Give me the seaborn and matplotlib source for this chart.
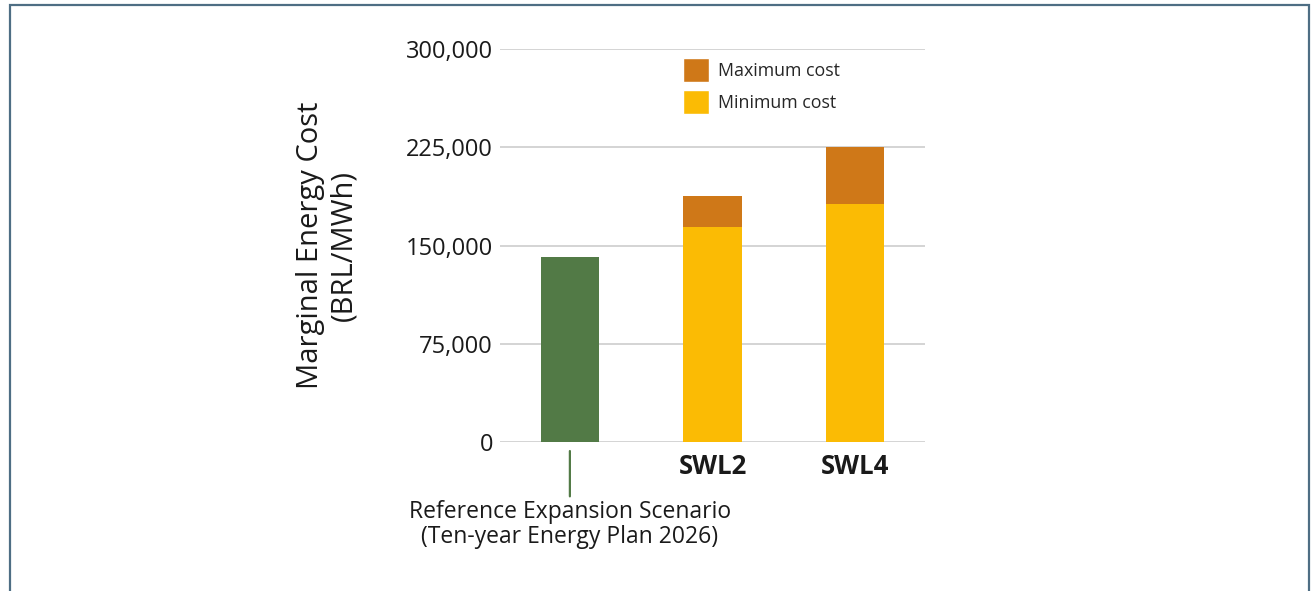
import matplotlib
matplotlib.use("Agg")
import matplotlib.pyplot as plt
import seaborn as sns
from matplotlib.patches import Patch, Rectangle
from matplotlib.ticker import FuncFormatter

categories = ["Reference", "SWL2", "SWL4"]
tick_labels = ["", "SWL2", "SWL4"]
ref_label = "Reference Expansion Scenario\n(Ten-year Energy Plan 2026)"
min_cost = [141000, 164000, 182000]
max_cost = [0, 188000, 225000]
yticks = [0, 75000, 150000, 225000, 300000]

GREEN = "#527a46"
ORANGE = "#cf7818"
YELLOW = "#fbbb04"
GRID = "#d4d4d4"
TEXT = "#1a1a1a"

sns.set_theme(style="white")
plt.rcParams["font.family"] = ["Open Sans", "DejaVu Sans"]

fig = plt.figure(figsize=(13.16, 5.91), dpi=100)
ax = fig.add_axes([500/1316, 1-442/591, 425/1316, 393/591])

sns.barplot(x=categories, y=max_cost, color=ORANGE, width=0.41, saturation=1,
            linewidth=0, ax=ax, zorder=3)
sns.barplot(x=categories, y=min_cost, hue=categories,
            palette=[GREEN, YELLOW, YELLOW], width=0.41, saturation=1,
            linewidth=0, legend=False, ax=ax, zorder=3)

ax.set_ylim(0, 300000)
ax.set_xlim(-0.49, 2.49)
ax.set_yticks(yticks)
ax.yaxis.set_major_formatter(FuncFormatter(lambda v, p: f"{int(v):,}"))
ax.grid(axis="y", color=GRID, linewidth=1.4, zorder=0)
ax.grid(axis="x", visible=False)
for s in ax.spines.values():
    s.set_visible(False)
ax.tick_params(axis="y", length=0, pad=5, labelsize=17, labelcolor=TEXT)
ax.tick_params(axis="x", length=0, pad=8, labelsize=18.5, labelcolor=TEXT)
ax.set_xticks(range(len(categories)))
ax.set_xticklabels(tick_labels, fontweight="bold")
ax.set_xlabel("")
ax.set_ylabel("Marginal Energy Cost\n(BRL/MWh)", fontsize=21, color=TEXT,
              labelpad=34, linespacing=1.2)

ax.annotate(ref_label, xy=(0, 0), xycoords=("data", "axes fraction"),
            xytext=(0, -41.5), textcoords="offset points",
            ha="center", va="top", fontsize=16.5, color=TEXT, linespacing=1.1,
            annotation_clip=False,
            arrowprops=dict(arrowstyle="-", color=GREEN, lw=1.6,
                            shrinkA=0, shrinkB=6.5))

handles = [Patch(facecolor=ORANGE, label="Maximum cost"),
           Patch(facecolor=YELLOW, label="Minimum cost")]
ax.legend(handles=handles, loc="upper left", bbox_to_anchor=(0.402, 1.008),
          frameon=False, fontsize=12.8, handlelength=1.45, handleheight=1.7,
          handletextpad=0.5, labelspacing=0.45, borderpad=0.2)

fig.patches.append(Rectangle((10/1316, -0.05), 1299/1316, 1.05 - 5/591,
                             transform=fig.transFigure, fill=False,
                             edgecolor="#4e6e84", linewidth=1.6))

fig.savefig("out.png", dpi=100, facecolor="white")
